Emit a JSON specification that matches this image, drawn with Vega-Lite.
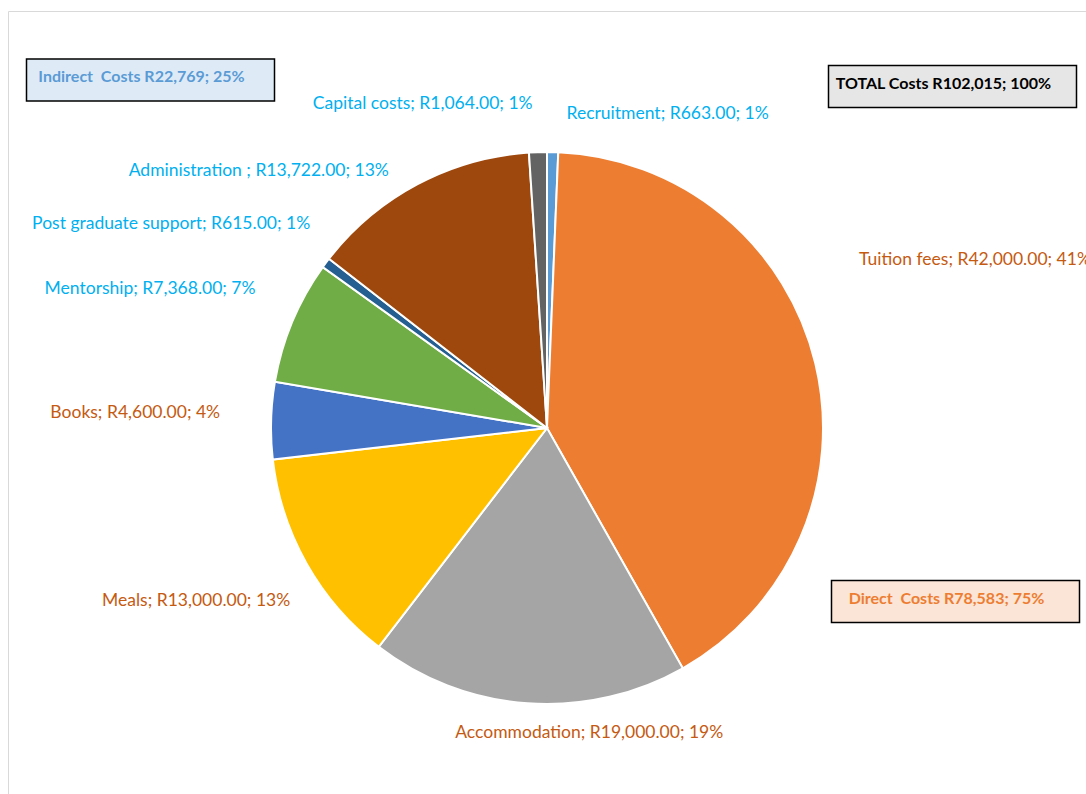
{
  "$schema": "https://vega.github.io/schema/vega-lite/v6.json",
  "width": 1078,
  "height": 783,
  "autosize": {"type": "none"},
  "padding": {"left": 8, "top": 11, "right": 0, "bottom": 0},
  "background": "white",
  "config": {"view": {"stroke": "#D9D9D9", "strokeWidth": 1}, "text": {"font": "Lato"}},
  "datasets": {
    "slices": [
      {"idx": 1, "name": "Recruitment", "amount": 663, "group": "Indirect", "label": "Recruitment; R663.00; 1%"},
      {"idx": 2, "name": "Tuition fees", "amount": 42000, "group": "Direct", "label": "Tuition fees; R42,000.00; 41%"},
      {"idx": 3, "name": "Accommodation", "amount": 19000, "group": "Direct", "label": "Accommodation; R19,000.00; 19%"},
      {"idx": 4, "name": "Meals", "amount": 13000, "group": "Direct", "label": "Meals; R13,000.00; 13%"},
      {"idx": 5, "name": "Books", "amount": 4600, "group": "Direct", "label": "Books; R4,600.00; 4%"},
      {"idx": 6, "name": "Mentorship", "amount": 7368, "group": "Indirect", "label": "Mentorship; R7,368.00; 7%"},
      {"idx": 7, "name": "Post graduate support", "amount": 615, "group": "Indirect", "label": "Post graduate support; R615.00; 1%"},
      {"idx": 8, "name": "Administration", "amount": 13722, "group": "Indirect", "label": "Administration ; R13,722.00; 13%"},
      {"idx": 9, "name": "Capital costs", "amount": 1064, "group": "Indirect", "label": "Capital costs; R1,064.00; 1%"}
    ],
    "boxes": [
      {"kind": "Indirect", "pct": 25, "label": "Indirect\u00a0 Costs R22,769; 25%"},
      {"kind": "Direct", "pct": 75, "label": "Direct\u00a0 Costs R78,583; 75%"},
      {"kind": "Total", "pct": 100, "label": "TOTAL Costs R102,015; 100%"}
    ]
  },
  "layer": [
    {
      "data": {"name": "slices"},
      "encoding": {
        "theta": {"field": "amount", "type": "quantitative", "stack": true},
        "order": {"field": "idx", "type": "quantitative"}
      },
      "layer": [
        {
          "mark": {"type": "arc", "outerRadius": 276, "stroke": "white", "strokeWidth": 2, "yOffset": 25.5},
          "encoding": {
            "color": {
              "field": "name",
              "type": "nominal",
              "scale": {
                "domain": ["Recruitment", "Tuition fees", "Accommodation", "Meals", "Books", "Mentorship", "Post graduate support", "Administration", "Capital costs"],
                "range": ["#5B9BD5", "#ED7D31", "#A5A5A5", "#FFC000", "#4472C4", "#70AD47", "#255E91", "#9E480E", "#636363"]
              },
              "legend": null
            }
          }
        },
        {
          "mark": {"type": "text", "radius": 318, "align": "right", "baseline": "middle", "fontSize": 17.5, "yOffset": 25.5, "dx": -4, "dy": -6},
          "encoding": {
            "text": {"condition": {"test": "datum.name == 'Capital costs'", "field": "label", "type": "nominal"}, "value": ""},
            "color": {"value": "#00B0F0"}
          }
        },
        {
          "mark": {"type": "text", "radius": 318, "align": "right", "baseline": "middle", "fontSize": 17.5, "yOffset": 25.5, "dx": -9, "dy": 24},
          "encoding": {
            "text": {"condition": {"test": "datum.name == 'Administration'", "field": "label", "type": "nominal"}, "value": ""},
            "color": {"value": "#00B0F0"}
          }
        },
        {
          "mark": {"type": "text", "radius": 318, "align": "right", "baseline": "middle", "fontSize": 17.5, "yOffset": 25.5, "dx": 18, "dy": -14},
          "encoding": {
            "text": {"condition": {"test": "datum.name == 'Post graduate support'", "field": "label", "type": "nominal"}, "value": ""},
            "color": {"value": "#00B0F0"}
          }
        },
        {
          "mark": {"type": "text", "radius": 318, "align": "right", "baseline": "middle", "fontSize": 17.5, "yOffset": 25.5, "dx": 2, "dy": -16},
          "encoding": {
            "text": {"condition": {"test": "datum.name == 'Mentorship'", "field": "label", "type": "nominal"}, "value": ""},
            "color": {"value": "#00B0F0"}
          }
        },
        {
          "mark": {"type": "text", "radius": 318, "align": "right", "baseline": "middle", "fontSize": 17.5, "yOffset": 25.5, "dx": -9, "dy": -6},
          "encoding": {
            "text": {"condition": {"test": "datum.name == 'Books'", "field": "label", "type": "nominal"}, "value": ""},
            "color": {"value": "#C55A11"}
          }
        },
        {
          "mark": {"type": "text", "radius": 318, "align": "right", "baseline": "middle", "fontSize": 17.5, "yOffset": 25.5, "dx": 20, "dy": 16},
          "encoding": {
            "text": {"condition": {"test": "datum.name == 'Meals'", "field": "label", "type": "nominal"}, "value": ""},
            "color": {"value": "#C55A11"}
          }
        },
        {
          "mark": {"type": "text", "radius": 318, "align": "left", "baseline": "middle", "fontSize": 17.5, "yOffset": 25.5, "dx": 13, "dy": 4},
          "encoding": {
            "text": {"condition": {"test": "datum.name == 'Recruitment'", "field": "label", "type": "nominal"}, "value": ""},
            "color": {"value": "#00B0F0"}
          }
        },
        {
          "mark": {"type": "text", "radius": 320, "align": "left", "baseline": "middle", "fontSize": 17.5, "yOffset": 25.5, "dx": 1, "dy": -93},
          "encoding": {
            "text": {"condition": {"test": "datum.name == 'Tuition fees'", "field": "label", "type": "nominal"}, "value": ""},
            "color": {"value": "#C55A11"}
          }
        },
        {
          "mark": {"type": "text", "radius": 308, "align": "center", "baseline": "middle", "fontSize": 17.5, "yOffset": 25.5, "dx": 64, "dy": -2},
          "encoding": {
            "text": {"condition": {"test": "datum.name == 'Accommodation'", "field": "label", "type": "nominal"}, "value": ""},
            "color": {"value": "#C55A11"}
          }
        }
      ]
    },
    {
      "data": {"name": "boxes"},
      "mark": {"type": "rect", "width": 248, "height": 42, "stroke": "#000000", "strokeWidth": 1.5},
      "encoding": {
        "x": {"field": "pct", "type": "quantitative", "scale": {"domain": [25, 75, 100], "range": [142.5, 947.5, 944.5], "zero": false, "nice": false}, "axis": null},
        "y": {"field": "pct", "type": "quantitative", "scale": {"domain": [25, 75, 100], "range": [69, 590.5, 75.5], "zero": false, "nice": false}, "axis": null},
        "fill": {"condition": [{"test": "datum.kind == 'Indirect'", "value": "#DEEBF7"}, {"test": "datum.kind == 'Direct'", "value": "#FBE5D6"}], "value": "#E7E6E6"}
      }
    },
    {
      "data": {"name": "boxes"},
      "mark": {"type": "text", "align": "center", "baseline": "middle", "dx": -9, "dy": -3, "fontSize": 16, "fontWeight": "bold"},
      "encoding": {
        "x": {"field": "pct", "type": "quantitative"},
        "y": {"field": "pct", "type": "quantitative"},
        "text": {"field": "label", "type": "nominal"},
        "color": {"condition": [{"test": "datum.kind == 'Indirect'", "value": "#5B9BD5"}, {"test": "datum.kind == 'Direct'", "value": "#ED7D31"}], "value": "#000000"}
      }
    }
  ]
}
